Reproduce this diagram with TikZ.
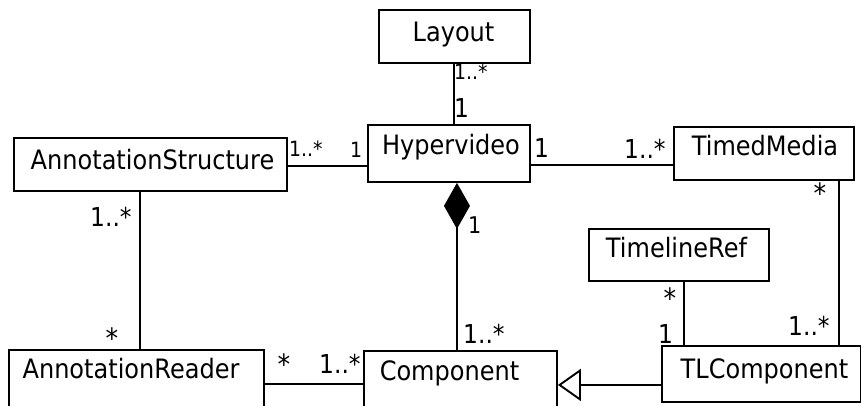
\documentclass[tikz,border=0pt]{standalone}
\usepackage{fontspec}
\setmainfont{DejaVu Sans}[FakeStretch=0.9]
\usetikzlibrary{arrows.meta}
\begin{document}
\begin{tikzpicture}[x=1pt,y=-1pt,
  cls/.style={draw=black, line width=1.9pt, fill=white, rectangle,
    inner sep=0pt, anchor=north west},
  clsname/.style={font=\fontsize{26.7}{30}\selectfont, inner sep=0pt, anchor=base},
  mbig/.style={font=\fontsize{26}{30}\selectfont, inner sep=0pt, anchor=base west},
  mmid/.style={font=\fontsize{23}{26}\selectfont, inner sep=0pt, anchor=base west},
  msmall/.style={font=\fontsize{21}{24}\selectfont, inner sep=0pt, anchor=base west},
  mstar/.style={font=\fontsize{28}{30}\selectfont, inner sep=0pt, anchor=base},
  assoc/.style={draw=black, line width=1.9pt},
  compo/.style={assoc, -{Diamond[length=46pt,width=26pt,fill=black]}},
  gener/.style={assoc, -{Triangle[open,length=23pt,width=32pt,fill=white]}}]
\useasboundingbox (0,0) rectangle (861,406);

% classes
\node[cls, minimum width=151pt, minimum height=53pt] (layout) at (378,9) {};
\node[cls, minimum width=162pt, minimum height=57pt] (hv) at (367,124) {};
\node[cls, minimum width=273pt, minimum height=53pt] (as) at (13,137) {};
\node[cls, minimum width=180pt, minimum height=53pt] (tm) at (673,126) {};
\node[cls, minimum width=180pt, minimum height=52pt] (tr) at (588,228) {};
\node[cls, minimum width=255pt, minimum height=59pt] (ar) at (8,349) {};
\node[cls, minimum width=193pt, minimum height=58pt] (comp) at (363,350) {};
\node[cls, minimum width=199pt, minimum height=56pt] (tlc) at (661,345) {};

% class names
\node[clsname] (layout-t) at (453.5,42) {Layout};
\node[clsname] (hv-t) at (451,155) {Hypervideo};
\node[clsname] (as-t) at (152.5,169) {AnnotationStructure};
\node[clsname] (tm-t) at (765,156) {TimedMedia};
\node[clsname] (tr-t) at (676.5,257) {TimelineRef};
\node[clsname] (tlc-t) at (764.5,378) {TLComponent};
\node[clsname] (ar-t) at (131,378) {AnnotationReader};
\node[clsname] (comp-t) at (449.5,380) {Component};

% associations
\draw[assoc] ([xshift=-0.5pt]layout.south) -- ([xshift=-0.5pt]layout.south |- hv.north);
\draw[assoc] ([yshift=-1.5pt]as.east) -- ([yshift=-1.5pt]as.east -| hv.west);
\draw[assoc] ([yshift=-12pt]hv.east) -- ([yshift=-12pt]hv.east -| tm.west);
\draw[assoc] ([xshift=-10.5pt]as.south) -- ([xshift=-10.5pt]as.south |- ar.north);
\draw[assoc] ([yshift=-4.5pt]ar.east) -- ([yshift=-4.5pt]ar.east -| comp.west);
\draw[assoc] ([xshift=5pt]tr.south) -- ([xshift=5pt]tr.south |- tlc.north);
\draw[assoc] ([xshift=-15.5pt]tm.south east) -- ([xshift=-15.5pt]tm.south east |- tlc.north);
% composition and generalization
\draw[compo] ([xshift=-3.5pt]comp.north) -- ([xshift=-3.5pt]comp.north |- hv.south);
\draw[gener] ([yshift=-11pt]tlc.west) -- ([yshift=-11pt]tlc.west -| comp.east);

% multiplicities
\node[msmall] (m1) at (454,80) {1..*};
\node[mbig] (m2) at (454,118) {1};
\node[msmall] (m3) at (289,157) {1..*};
\node[msmall] (m4) at (350,158) {1};
\node[mbig] (m5) at (534,158) {1};
\node[mbig] (m6) at (624,159) {1..*};
\node[mmid] (m7) at (468,233) {1};
\node[mbig] (m8) at (463,343) {1..*};
\node[mbig] (m9) at (90,226) {1..*};
\node[mstar] (m10) at (112,348) {*};
\node[mstar] (m11) at (284,374) {*};
\node[mbig] (m12) at (319,373) {1..*};
\node[mstar] (m13) at (670,308) {*};
\node[mbig] (m14) at (658,343) {1};
\node[mstar] (m15) at (820,204) {*};
\node[mbig] (m16) at (788,335) {1..*};
\end{tikzpicture}
\end{document}
